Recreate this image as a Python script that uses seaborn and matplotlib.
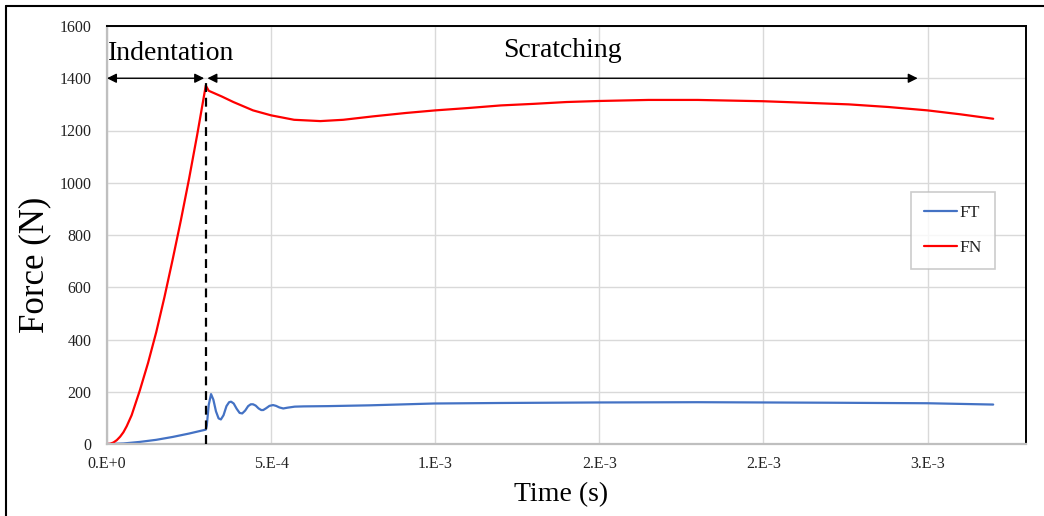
import numpy as np
import pandas as pd
import matplotlib
matplotlib.use("Agg")
import matplotlib.pyplot as plt
from matplotlib.lines import Line2D
import seaborn as sns

# ---- data (time in units of 1e-4 s, force in N) ----
fn_time = [0, 0.1, 0.2, 0.3, 0.4, 0.5, 0.6, 0.75, 1.0, 1.25, 1.5, 1.75, 2.0, 2.25, 2.5, 2.75, 3.01,
           3.1, 3.5, 3.85, 4.45, 5.0, 5.7, 6.5, 7.2, 8.1, 9.1,
           10.0, 11.0, 12.0, 13.0, 14.0, 15.0, 16.5, 18.0, 20.0, 21.1,
           22.6, 23.8, 25.0, 26.0, 27.0]
fn_force = [0, 1, 6, 15, 28, 45, 68, 110, 205, 310, 428, 562, 706, 856, 1015, 1185, 1372,
            1352, 1330, 1309, 1277, 1258, 1241, 1236, 1241, 1254, 1267,
            1277, 1286, 1296, 1302, 1309, 1313, 1317, 1317, 1312, 1307,
            1300, 1290, 1277, 1262, 1245]

ft_time = [0, 0.5, 1.0, 1.5, 2.0, 2.5,
           3.01, 3.04, 3.10, 3.17, 3.24, 3.32, 3.40, 3.47,
           3.55, 3.64, 3.72, 3.78, 3.86, 3.95, 4.04, 4.12,
           4.21, 4.30, 4.38, 4.45, 4.53, 4.62, 4.70, 4.76,
           4.85, 4.95, 5.06, 5.15, 5.25, 5.37, 5.5, 5.72,
           6.0, 6.74, 8.0, 9.96, 12.0, 15.0, 18.0, 20.0,
           22.0, 25.0, 27.0]
ft_force = [0, 2, 8, 16, 27, 40,
            55, 70, 150, 191, 170, 125, 98, 94,
            110, 145, 160, 162, 155, 135, 119, 117,
            128, 145, 152, 152, 147, 136, 130, 130,
            137, 146, 149, 146, 140, 136, 139, 143,
            144, 145, 148, 155, 157, 159, 160, 159,
            158, 156, 151]

series_names = ["FT", "FN"]
series_colors = {"FT": "#4472C4", "FN": "#FF0000"}

xtick_values = [0, 5e-4, 1e-3, 1.5e-3, 2e-3, 2.5e-3]
xtick_labels = ["0.E+0", "5.E-4", "1.E-3", "2.E-3", "2.E-3", "3.E-3"]
ytick_values = [0, 200, 400, 600, 800, 1000, 1200, 1400, 1600]

indent_end = 3.01e-4
scratch_end = 2.47e-3
arrow_level = 1400

df = pd.concat([
    pd.DataFrame({"time": np.array(ft_time) * 1e-4, "force": ft_force, "series": "FT"}),
    pd.DataFrame({"time": np.array(fn_time) * 1e-4, "force": fn_force, "series": "FN"}),
], ignore_index=True)

sns.set_theme(style="white")
plt.rcParams["font.family"] = ["Liberation Serif", "DejaVu Serif"]

W, H = 1044, 516
fig = plt.figure(figsize=(W / 100, H / 100), dpi=100)
ax = fig.add_axes([107 / W, 72 / H, 919 / W, 418 / H])

sns.lineplot(data=df, x="time", y="force", hue="series", hue_order=series_names,
             palette=series_colors, estimator=None, sort=False, linewidth=1.6, ax=ax)

ax.set_xlim(0, 2.8e-3)
ax.set_ylim(0, 1600)
ax.set_xticks(xtick_values)
ax.set_xticklabels(xtick_labels)
ax.set_yticks(ytick_values)
ax.set_axisbelow(True)
ax.grid(True, color="#D9D9D9", linewidth=1.0)
ax.tick_params(axis="both", length=0, labelsize=11.5, colors="#222222")
ax.tick_params(axis="y", pad=11)
ax.tick_params(axis="x", pad=9)

for side in ["left", "bottom"]:
    ax.spines[side].set_color("#BFBFBF")
    ax.spines[side].set_linewidth(1.6)
for side in ["top", "right"]:
    ax.spines[side].set_color("black")
    ax.spines[side].set_linewidth(1.4)

ax.set_xlabel("Time (s)", fontsize=20, color="black")
ax.set_ylabel("Force (N)", fontsize=25, color="black")
ax.xaxis.set_label_coords((561 - 107) / 919, (444 - 495) / 418)
ax.xaxis.label.set_va("center")
ax.yaxis.set_label_coords((35 - 107) / 919, (444 - 265) / 418)
ax.yaxis.label.set_va("center")

# dashed separator
ax.plot([indent_end, indent_end], [0, arrow_level], color="black", lw=1.6,
        linestyle=(0, (4, 2.6)), zorder=3)

# arrows
arrow_kw = dict(arrowstyle="<|-|>", color="black", lw=1.0, mutation_scale=14,
                shrinkA=0, shrinkB=0)
ax.annotate("", xy=(0, arrow_level), xytext=(indent_end - 0.05e-4, arrow_level),
            arrowprops=arrow_kw, annotation_clip=False)
ax.annotate("", xy=(indent_end + 0.05e-4, arrow_level), xytext=(scratch_end, arrow_level),
            arrowprops=arrow_kw, annotation_clip=False)

ax.text(0.02e-4, 1493, "Indentation", fontsize=20, ha="left", va="center", color="black")
ax.text(13.89e-4, 1505, "Scratching", fontsize=20, ha="center", va="center", color="black")

# legend
handles, labels = ax.get_legend_handles_labels()
leg = ax.legend(handles, labels, loc="upper left", bbox_to_anchor=(0.875, 0.603),
                borderaxespad=0, frameon=True, fancybox=False, fontsize=12.5,
                handlelength=1.9, handletextpad=0.15, labelspacing=1.1, borderpad=0.75)
leg.get_frame().set_edgecolor("#BFBFBF")
leg.get_frame().set_linewidth(1.2)
for line in leg.get_lines():
    line.set_linewidth(1.6)

# outer frame (left and top)
fig.add_artist(Line2D([6 / W, 6 / W], [0, 1 - 6 / H], transform=fig.transFigure,
                      color="black", lw=1.5))
fig.add_artist(Line2D([6 / W, 1], [1 - 6 / H, 1 - 6 / H], transform=fig.transFigure,
                      color="black", lw=1.5))

fig.savefig("out.png", dpi=100)
